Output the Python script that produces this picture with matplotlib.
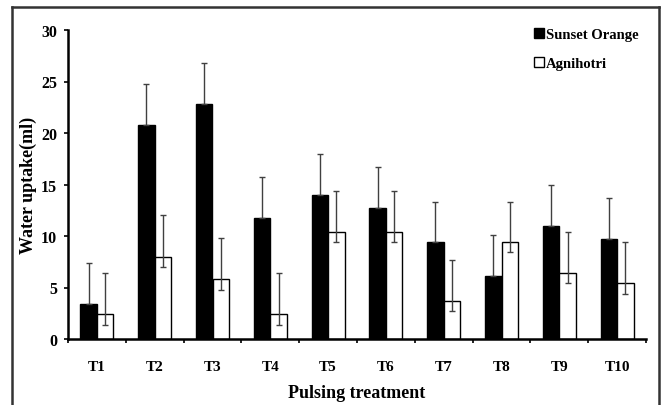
import matplotlib.pyplot as plt
import numpy as np
from matplotlib.lines import Line2D

plt.rcParams['font.family'] = ['Liberation Serif', 'DejaVu Serif']
plt.rcParams['font.weight'] = 'bold'
plt.rcParams['axes.labelweight'] = 'bold'

traitements = ['T1', 'T2', 'T3', 'T4', 'T5', 'T6', 'T7', 'T8', 'T9', 'T10']
sunset_orange = [3.4, 20.8, 22.8, 11.7, 14.0, 12.7, 9.4, 6.1, 11.0, 9.7]
agnihotri = [2.4, 8.0, 5.8, 2.4, 10.4, 10.4, 3.7, 9.4, 6.4, 5.4]
err_haut_so = [4.0, 4.0, 4.0, 4.0, 4.0, 4.0, 3.9, 4.0, 4.0, 4.0]
err_haut_ag = [4.0, 4.0, 4.0, 4.0, 4.0, 4.0, 4.0, 3.9, 4.0, 4.0]
err_bas_ag = [1.0] * 10
err_bas_so = [0.0] * 10  # cachée dans la barre noire

fig = plt.figure(figsize=(6.62, 4.06), dpi=100)
ax = fig.add_axes([68/662, 66/406, 578/662, 309/406])

x = np.arange(len(traitements))
larg = 0.285
ebar = dict(ecolor='#404040', elinewidth=1, capsize=2.5, capthick=1)
ax.bar(x - larg/2, sunset_orange, larg, color='black', edgecolor='black',
       yerr=[err_bas_so, err_haut_so], error_kw=ebar, label='Sunset Orange')
ax.bar(x + larg/2, agnihotri, larg, color='white', edgecolor='black', linewidth=1,
       yerr=[err_bas_ag, err_haut_ag], error_kw=ebar, label='Agnihotri')

ax.set_xlim(-0.5, len(traitements) - 0.5)
ax.set_ylim(0, 30)
ax.set_yticks([0, 5, 10, 15, 20, 25, 30])
ax.set_xticks(x)
ax.set_xticklabels(traitements)
ax.set_xticks(np.arange(-0.5, len(traitements)), minor=True)
ax.tick_params(axis='x', which='major', length=0, pad=15, labelsize=11)
ax.tick_params(axis='x', which='minor', length=3, width=1.2, direction='out')
ax.tick_params(axis='y', length=3, width=1.2, direction='out', pad=5, labelsize=11.5)

for s in ['top', 'right']:
    ax.spines[s].set_visible(False)
for s in ['left', 'bottom']:
    ax.spines[s].set_linewidth(1.8)

ax.set_xlabel('Pulsing treatment', fontsize=13, labelpad=8)
ax.set_ylabel('Water uptake(ml)', fontsize=13, labelpad=3)

ax.legend(loc='upper right', bbox_to_anchor=(1.01, 1.05), frameon=False,
          handlelength=0.7, handleheight=0.7, handletextpad=0.15,
          labelspacing=1.1, fontsize=10.5)

# cadre autour de la figure
cadre = dict(color='#333333', linewidth=1.8, transform=fig.transFigure)
fig.add_artist(Line2D([12/662, 12/662], [0, 1 - 8/406], **cadre))
fig.add_artist(Line2D([12/662, 659/662], [1 - 8/406, 1 - 8/406], **cadre))
fig.add_artist(Line2D([659/662, 659/662], [0, 1 - 8/406], **cadre))

plt.savefig('out.png', dpi=100)
